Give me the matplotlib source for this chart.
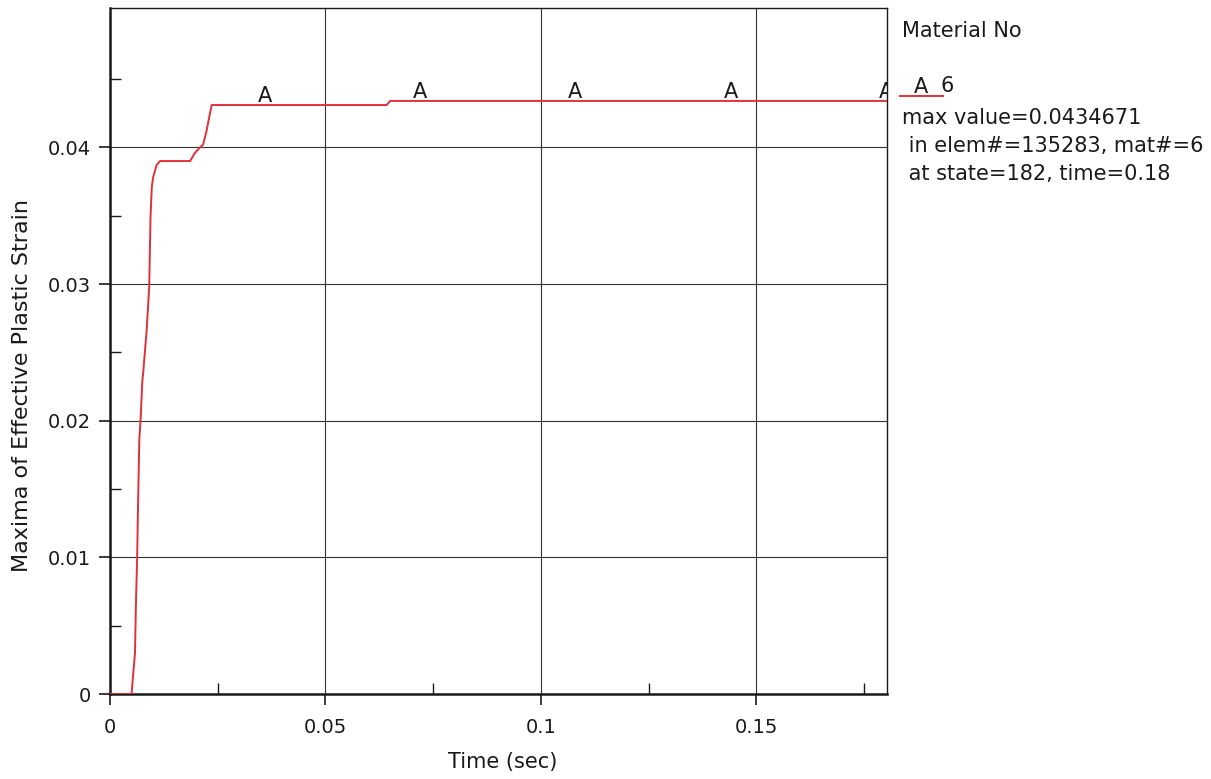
import matplotlib.pyplot as plt
from matplotlib.ticker import FixedLocator
from matplotlib.lines import Line2D

# Maxima of effective plastic strain vs time
time = [0.0, 0.0050, 0.0054, 0.0058, 0.0060, 0.0063, 0.0065, 0.0068, 0.0071,
        0.0075, 0.0077, 0.0085, 0.0091, 0.0094, 0.0097, 0.0100, 0.0108,
        0.0116, 0.0186, 0.0197, 0.0209, 0.0216, 0.0224, 0.0232, 0.0236,
        0.0642, 0.0650, 0.1803]
strain = [0.0, 0.0, 0.0015, 0.0030, 0.0064, 0.0100, 0.0137, 0.0186, 0.0201,
          0.0229, 0.0235, 0.0266, 0.0298, 0.0349, 0.0371, 0.0378, 0.0387,
          0.0390, 0.0390, 0.0396, 0.0400, 0.0402, 0.0412, 0.0425, 0.0431,
          0.0431, 0.0434, 0.0434]
marker_t = [0.036, 0.072, 0.108, 0.144, 0.18]
marker_y = [0.0431, 0.0434, 0.0434, 0.0434, 0.0434]

xticks = [0, 0.05, 0.1, 0.15]
xticklabels = ['0', '0.05', '0.1', '0.15']
xminor = [0.025, 0.075, 0.125, 0.175]
yticks = [0, 0.01, 0.02, 0.03, 0.04]
yticklabels = ['0', '0.01', '0.02', '0.03', '0.04']
yminor = [0.005, 0.015, 0.025, 0.035, 0.045]

info = ['max value=0.0434671', ' in elem#=135283, mat#=6', ' at state=182, time=0.18']

W, H = 1211, 779
ink = '#1a1a1a'
red = '#e0303a'

fig = plt.figure(figsize=(W / 100, H / 100), dpi=100)
ax = fig.add_axes([110 / W, 1 - 694 / H, 777 / W, 686 / H])

ax.plot(time, strain, color=red, lw=1.4, zorder=3)
for t, v in zip(marker_t, marker_y):
    ax.text(t, v - 0.0001, 'A', ha='center', va='bottom', fontsize=15,
            color=ink, clip_on=True, zorder=4)

ax.set_xlim(0, 0.1803)
ax.set_ylim(0, 0.0502)
ax.xaxis.set_major_locator(FixedLocator(xticks))
ax.set_xticklabels(xticklabels)
ax.yaxis.set_major_locator(FixedLocator(yticks))
ax.set_yticklabels(yticklabels)
ax.xaxis.set_minor_locator(FixedLocator(xminor))
ax.yaxis.set_minor_locator(FixedLocator(yminor))

ax.grid(True, which='major', color='#333333', lw=0.8)
ax.tick_params(which='major', direction='out', length=8, width=1.2,
               labelsize=14, pad=6, colors=ink)
ax.tick_params(which='minor', direction='in', length=8, width=1.0, colors=ink)
ax.tick_params(axis='x', which='major', pad=9)

for side in ['left', 'bottom']:
    ax.spines[side].set_linewidth(1.8)
for side in ['top', 'right']:
    ax.spines[side].set_linewidth(1.0)
for s in ax.spines.values():
    s.set_color(ink)

fig.text(503 / W, 1 - 762 / H, 'Time (sec)', ha='center', va='center',
         fontsize=15, color=ink)
fig.text(22 / W, 1 - 385 / H, 'Maxima of Effective Plastic Strain', ha='center',
         va='center', rotation=90, fontsize=16, color=ink)

# legend block on the right
fig.text(902 / W, 1 - 31 / H, 'Material No', ha='left', va='center',
         fontsize=15, color=ink)
fig.lines.append(Line2D([900 / W, 943 / W], [1 - 96 / H, 1 - 96 / H],
                        color=red, lw=1.4, transform=fig.transFigure))
fig.text(921 / W, 1 - 97 / H, 'A', ha='center', va='bottom', fontsize=15,
         color=ink)
fig.text(940 / W, 1 - 86 / H, '6', ha='left', va='center', fontsize=15,
         color=ink)
for i, line in enumerate(info):
    fig.text(902 / W, 1 - (118 + 28 * i) / H, line, ha='left', va='center',
             fontsize=15, color=ink)

fig.savefig('out.png', dpi=100)
